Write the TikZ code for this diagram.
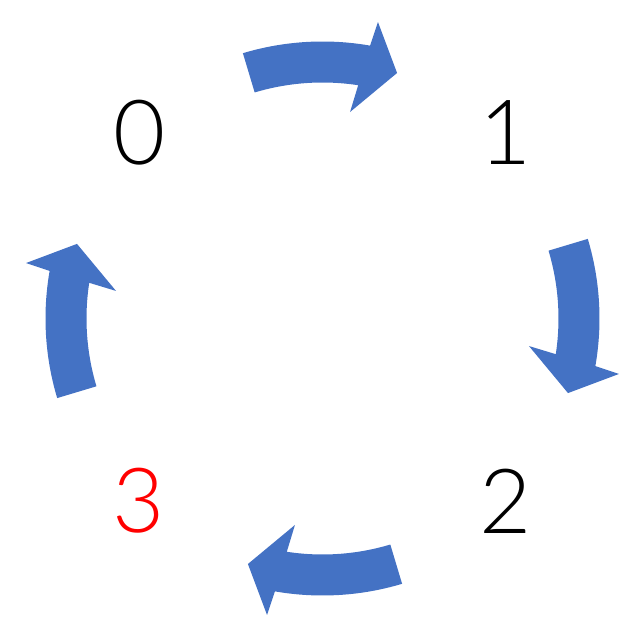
\documentclass[tikz,border=0pt]{standalone}
\usepackage{fontspec}
\setmainfont{DejaVu Sans}
\newfontfamily\digitfont{Lato Light}
\definecolor{arrowblue}{HTML}{4472C4}
\begin{document}
\begin{tikzpicture}[x=1pt,y=1pt,
  cycarrow/.style={fill=arrowblue,draw=none},
  digit/.style={inner sep=0pt,font=\digitfont\fontsize{90}{90}\selectfont}]
\useasboundingbox (-322.5,-309.5) rectangle (318.5,318.5);
\node[digit] (n0) at (-182.5,186) {0};
\node[digit] (n1) at (183.5,186) {1};
\node[digit] (n2) at (183.5,-182.5) {2};
\node[digit,text=red] (n3) at (-183.5,-182.5) {3};
\foreach \r in {0,-90,-180,-270}{
  \begin{scope}[rotate=\r]
    \fill[cycarrow] (106.7:277) arc[start angle=106.7,end angle=80.1,radius=277pt]
      -- (79.4:301.6) -- (73.1:256.6) -- (82.4:208.3) -- (81.3:236)
      arc[start angle=81.3,end angle=106.7,radius=236pt] -- cycle;
  \end{scope}
}
\end{tikzpicture}
\end{document}
